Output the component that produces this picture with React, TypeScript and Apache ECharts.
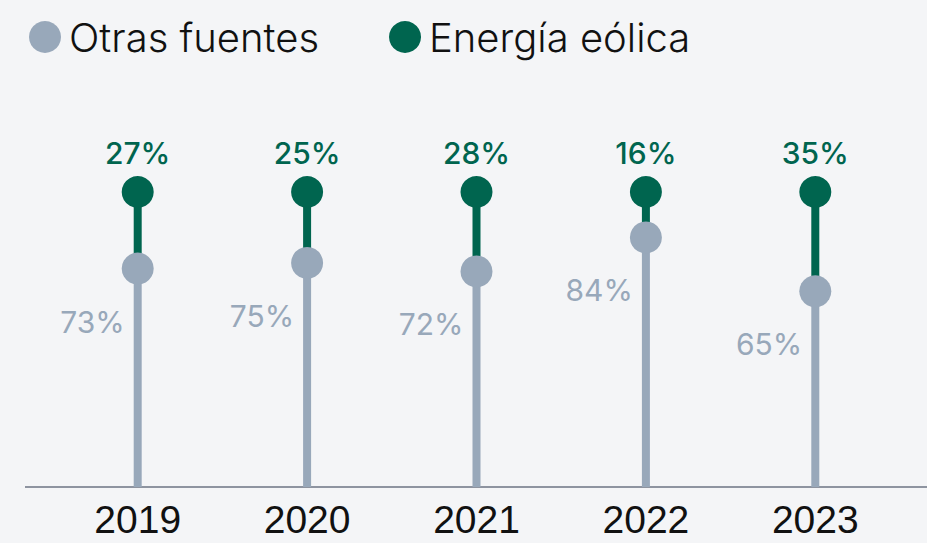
import React, { useEffect, useRef } from "react";
import * as echarts from "echarts";

const years = ["2019", "2020", "2021", "2022", "2023"];
const otras = [73, 75, 72, 84, 65];
const eolica = [27, 25, 28, 16, 35];

const GRAY = "#98a8ba";
const GREEN = "#00654f";
const Y_MIN = -4;
const Y_MAX = 100;

export default function App() {
  const ref = useRef<HTMLDivElement>(null);
  useEffect(() => {
    document.body.style.margin = "0";
    const chart = echarts.init(ref.current!, null, { renderer: "svg" });
    const option: any = {
      animation: false,
      backgroundColor: "#f4f5f7",
      legend: {
        data: ["Otras fuentes", "Energía eólica"],
        left: 24,
        top: 12,
        icon: "circle",
        itemWidth: 32,
        itemHeight: 32,
        itemGap: 70,
        textStyle: { fontFamily: "Inter", fontSize: 40, fontWeight: 300, color: "#111", padding: [0, 0, 0, 3] },
      },
      grid: { left: 53, right: 27, top: 192, bottom: 56 },
      xAxis: {
        type: "category",
        data: years,
        axisLine: { show: false },
        axisTick: { show: false },
        axisLabel: { fontFamily: "Liberation Sans", fontSize: 39, color: "#111", margin: 13 },
      },
      yAxis: { type: "value", min: Y_MIN, max: Y_MAX, show: false, splitLine: { show: false } },
      graphic: [
        {
          type: "line",
          shape: { x1: 25, y1: 487, x2: 927, y2: 487 },
          style: { stroke: "#8e94a0", lineWidth: 2 },
          z: 1,
        },
      ],
      series: [
        {
          name: "Energía eólica",
          type: "custom",
          itemStyle: { color: GREEN },
          data: years.map((_, i) => [i, otras[i], eolica[i]]),
          z: 2,
          renderItem: (params: any, api: any) => {
            const i = api.value(0);
            const low = api.coord([i, api.value(1)]);
            const top = api.coord([i, api.value(1) + api.value(2)]);
            return {
              type: "group",
              children: [
                { type: "line", shape: { x1: low[0], y1: low[1], x2: top[0], y2: top[1] }, style: { stroke: GREEN, lineWidth: 8 } },
                { type: "circle", shape: { cx: top[0], cy: top[1], r: 16 }, style: { fill: GREEN } },
                {
                  type: "text",
                  x: top[0],
                  y: top[1] - 39,
                  style: { text: api.value(2) + "%", fill: GREEN, fontFamily: "Inter", fontSize: 30, fontWeight: 500, align: "center", verticalAlign: "middle" },
                },
              ],
            };
          },
        },
        {
          name: "Otras fuentes",
          type: "custom",
          itemStyle: { color: GRAY },
          data: years.map((_, i) => [i, otras[i]]),
          z: 3,
          renderItem: (params: any, api: any) => {
            const i = api.value(0);
            const base = api.coord([i, Y_MIN]);
            const pt = api.coord([i, api.value(1)]);
            return {
              type: "group",
              children: [
                { type: "line", shape: { x1: base[0], y1: base[1], x2: pt[0], y2: pt[1] }, style: { stroke: GRAY, lineWidth: 8 } },
                { type: "circle", shape: { cx: pt[0], cy: pt[1], r: 16 }, style: { fill: GRAY } },
                {
                  type: "text",
                  x: pt[0] - 13,
                  y: pt[1] + 53,
                  style: { text: api.value(1) + "%", fill: GRAY, fontFamily: "Inter", fontSize: 30, align: "right", verticalAlign: "middle" },
                },
              ],
            };
          },
        },
      ],
    };
    chart.setOption(option);
    return () => chart.dispose();
  }, []);
  return <div ref={ref} style={{ width: 927, height: 543 }} />;
}
